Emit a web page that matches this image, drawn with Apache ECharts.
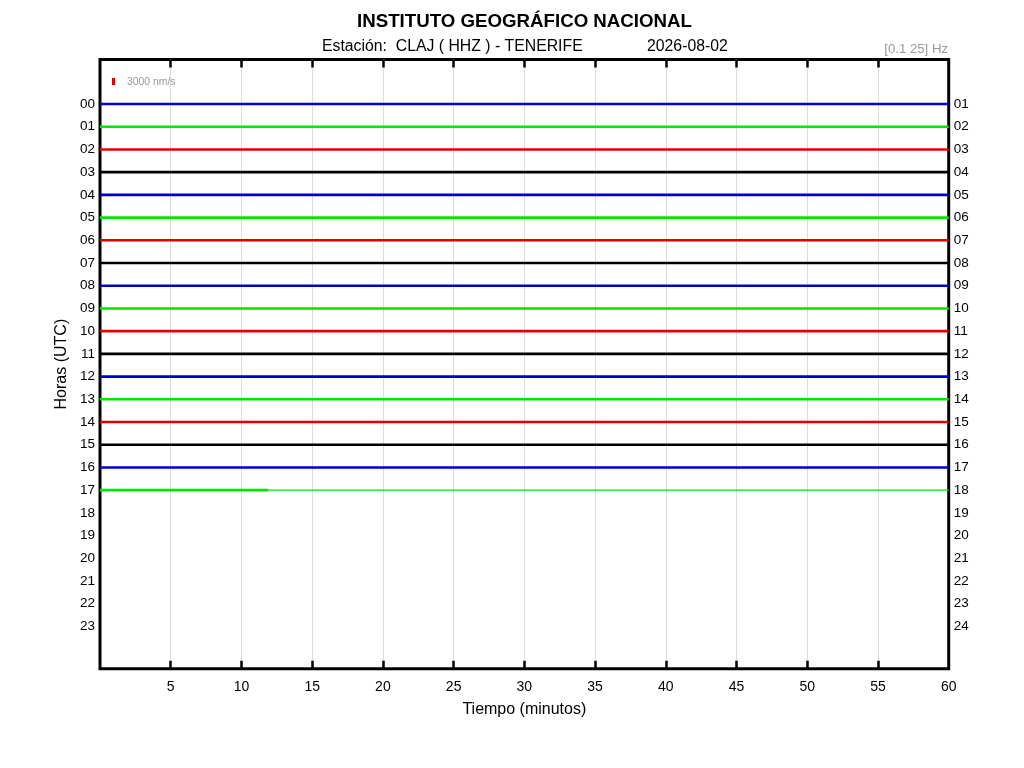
<!DOCTYPE html>
<html>
<head>
<meta charset="utf-8">
<script src="https://cdn.jsdelivr.net/npm/echarts@6/dist/echarts.min.js"></script>
<style>
html,body{margin:0;padding:0;background:#fff;}
#chart{width:1024px;height:768px;}
</style>
</head>
<body>
<div id="chart"></div>
<script>
// ---- data ----
const hourLabels = ['00','01','02','03','04','05','06','07','08','09','10','11','12','13','14','15','16','17','18','19','20','21','22','23'];
const rightHourLabels = ['01','02','03','04','05','06','07','08','09','10','11','12','13','14','15','16','17','18','19','20','21','22','23','24'];
const traceColors = ['#0000c8', '#00e600', '#e00000', '#000000'];
const traceRows = [0,1,2,3,4,5,6,7,8,9,10,11,12,13,14,15,16,17];
const noisyEndMin = [60,60,60,60,60,60,60,60,60,60,60,60,60,60,60,60,60,11.9];
const quietEndMin = [null,null,null,null,null,null,null,null,null,null,null,null,null,null,null,null,null,60];
const xTicks = [5,10,15,20,25,30,35,40,45,50,55,60];

const FONT = "'Liberation Sans', Arial, sans-serif";
const series = [];
traceRows.forEach(function(r, i){
  const col = traceColors[r % 4];
  series.push({
    type: 'line', xAxisIndex: 0, yAxisIndex: 0, symbol: 'none', silent: true,
    data: [[0, r], [noisyEndMin[i], r]],
    lineStyle: { color: col, width: 2.6 }
  });
  if (quietEndMin[i] !== null) {
    series.push({
      type: 'line', xAxisIndex: 0, yAxisIndex: 0, symbol: 'none', silent: true,
      data: [[noisyEndMin[i], r], [quietEndMin[i], r]],
      lineStyle: { color: col, width: 1.3 }
    });
  }
});

const hourValues = hourLabels.map(function(_, i){ return i; });
const chart = echarts.init(document.getElementById('chart'), null, {renderer:'canvas'});
chart.setOption({
  animation: false,
  backgroundColor: '#ffffff',
  textStyle: { fontFamily: FONT },
  grid: { left: 100, right: 75.3, top: 59.5, bottom: 99.3, show: true, borderColor: '#000', borderWidth: 3, backgroundColor: 'transparent' },
  xAxis: [{
    type: 'value', min: 0, max: 60, interval: 5, position: 'bottom',
    name: 'Tiempo (minutos)', nameLocation: 'middle', nameGap: 32.5,
    nameTextStyle: { color: '#000', fontSize: 16, fontFamily: FONT },
    axisLine: { show: false, onZero: false },
    axisTick: { show: true, inside: true, length: 8, lineStyle: { color: '#000', width: 2.5 }, customValues: xTicks.slice(0, -1) },
    axisLabel: { color: '#000', fontSize: 14, margin: 11, fontFamily: FONT, customValues: xTicks },
    splitLine: { show: true, lineStyle: { color: '#dcdcdc', width: 1 } }
  }, {
    type: 'value', min: 0, max: 60, interval: 5, position: 'top',
    axisLine: { show: false, onZero: false },
    axisTick: { show: true, inside: true, length: 8, lineStyle: { color: '#000', width: 2.5 }, customValues: xTicks.slice(0, -1) },
    axisLabel: { show: false },
    splitLine: { show: false }
  }],
  yAxis: [{
    type: 'value', inverse: true, min: -1.96, max: 24.86, position: 'left',
    name: 'Horas (UTC)', nameLocation: 'middle', nameGap: 30, nameMoveOverlap: false,
    nameTextStyle: { color: '#000', fontSize: 16, fontFamily: FONT },
    axisLine: { show: false, onZero: false }, axisTick: { show: false }, splitLine: { show: false },
    axisLabel: { color: '#000', fontSize: 13.5, margin: 5, fontFamily: FONT, customValues: hourValues,
      formatter: function(v){ return hourLabels[Math.round(v)]; } }
  }, {
    type: 'value', inverse: true, min: -1.96, max: 24.86, position: 'right',
    axisLine: { show: false, onZero: false }, axisTick: { show: false }, splitLine: { show: false },
    axisLabel: { color: '#000', fontSize: 13.5, margin: 5, fontFamily: FONT, customValues: hourValues,
      formatter: function(v){ return rightHourLabels[Math.round(v)]; } }
  }],
  graphic: [
    { type: 'text', x: 524.5, y: 21.5, style: { text: 'INSTITUTO GEOGRÁFICO NACIONAL', font: "bold 18.7px " + FONT, fill: '#000', textAlign: 'center', textVerticalAlign: 'middle' }, z: 10 },
    { type: 'text', x: 322, y: 47, style: { text: 'Estación:  CLAJ ( HHZ ) - TENERIFE', font: "15.8px " + FONT, fill: '#000', textVerticalAlign: 'middle' }, z: 10 },
    { type: 'text', x: 647, y: 47, style: { text: '2026-08-02', font: "15.8px " + FONT, fill: '#000', textVerticalAlign: 'middle' }, z: 10 },
    { type: 'text', x: 948, y: 49.5, style: { text: '[0.1 25] Hz', font: "13.2px " + FONT, fill: '#999', textAlign: 'right', textVerticalAlign: 'middle' }, z: 10 },
    { type: 'rect', shape: { x: 112, y: 78, width: 3, height: 7 }, style: { fill: '#e00000' }, z: 10 },
    { type: 'text', x: 127, y: 82, style: { text: '3000 nm/s', font: "10.4px " + FONT, fill: '#999', textVerticalAlign: 'middle' }, z: 10 }
  ],
  series: series
});
</script>
</body>
</html>
